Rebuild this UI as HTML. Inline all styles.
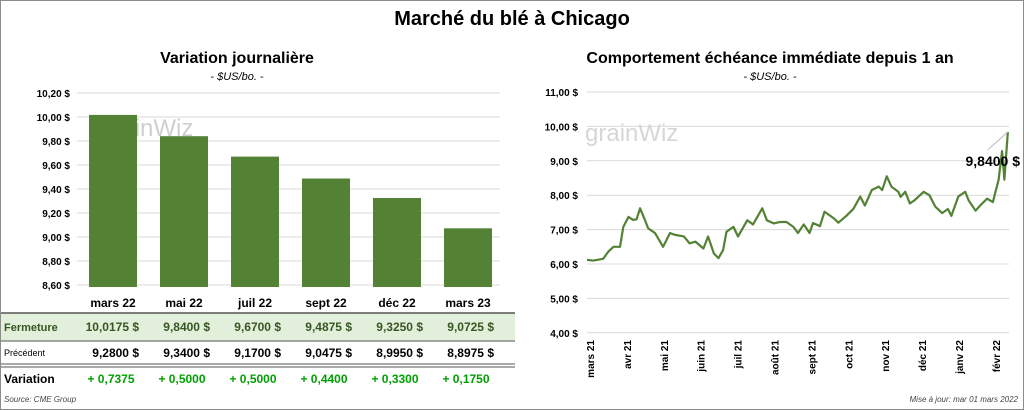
<!DOCTYPE html>
<html><head><meta charset="utf-8"><style>
body{margin:0;width:1024px;height:410px;background:#fff;font-family:"Liberation Sans",sans-serif;overflow:hidden}
#frame{position:absolute;left:0;top:0;width:1022px;height:408px;border:1px solid #8c8c8c}
.t{position:absolute;white-space:nowrap}
</style></head><body>
<div id="frame"></div>
<div class="t" style="left:0;width:1024px;text-align:center;top:8px;font-size:20px;font-weight:bold">Marché du blé à Chicago</div>
<svg id="s" width="1024" height="410" style="position:absolute;left:0;top:0"></svg>
<script>
const barCats=["mars 22","mai 22","juil 22","sept 22","déc 22","mars 23"];
const closeVals=[10.0175,9.84,9.67,9.4875,9.325,9.0725];
const prevVals=[9.28,9.34,9.17,9.0475,8.995,8.8975];
const barTicks=[10.2,10.0,9.8,9.6,9.4,9.2,9.0,8.8,8.6];
const lineDays=[0,5.5,14,18.5,23,28.6,31.5,36,40,43,46,50,53,59,66,72,76,84,89,94,101,105,110,114,118,121,127,131,139,144,152,156,162,167,173,179,183,188,193,196,202,206,214,218,225,231,237,241,247,253,256,260,264,270,272,276,280,284,292,297,302,308,313,316,322,328,331,337,341,347,352,357,360,362,365];
const lineVals=[6.12,6.1,6.15,6.36,6.5,6.5,7.08,7.37,7.28,7.3,7.62,7.3,7.04,6.9,6.5,6.9,6.85,6.8,6.6,6.65,6.45,6.8,6.31,6.17,6.4,6.94,7.08,6.8,7.27,7.15,7.62,7.27,7.18,7.22,7.22,7.08,6.9,7.15,6.9,7.19,7.1,7.52,7.33,7.2,7.4,7.6,7.96,7.7,8.15,8.25,8.15,8.55,8.25,8.1,7.95,8.1,7.76,7.85,8.1,8.0,7.67,7.48,7.6,7.4,7.96,8.1,7.85,7.55,7.7,7.9,7.8,8.45,9.28,8.45,9.84];
const lineTicks=[11,10,9,8,7,6,5,4];
const monthLabels=["mars 21","avr 21","mai 21","juin 21","juil 21","août 21","sept 21","oct 21","nov 21","déc 21","janv 22","févr 22"];
const S=document.getElementById('s');const NS="http://www.w3.org/2000/svg";
function mk(t,a,txt){const e=document.createElementNS(NS,t);for(const k in a)e.setAttribute(k,a[k]);if(txt!==undefined)e.textContent=txt;S.appendChild(e);return e;}
const fmt=(v,d)=>v.toFixed(d).replace('.',',');
// left chart
const by=v=>93+(10.2-v)*120, bx=i=>113+i*71;
mk('text',{x:237,y:63,'font-size':16,'font-weight':'bold','text-anchor':'middle','font-family':'Liberation Sans'},'Variation  journalière');
mk('text',{x:237,y:80,'font-size':11,'font-style':'italic','text-anchor':'middle','font-family':'Liberation Sans'},'- $US/bo. -');
barTicks.forEach(v=>{const l=mk('line',{x1:77,x2:500,y1:by(v),y2:by(v),stroke:'#d9d9d9'});
const t=mk('text',{x:70,y:by(v)+4,'font-size':10,'font-weight':'bold','text-anchor':'end','font-family':'Liberation Sans'},fmt(v,2)+' $');});
mk('text',{x:100,y:136,'font-size':24,fill:'#cfcfcf','font-family':'Liberation Sans'},'grainWiz');
closeVals.forEach((v,i)=>{const r=mk('rect',{x:bx(i)-24,y:by(v),width:48,height:by(8.6)-by(v)+2,fill:'#548235'});
const c=mk('text',{x:bx(i),y:307,'font-size':12,'font-weight':'bold','text-anchor':'middle','font-family':'Liberation Sans'},barCats[i]);});
// table
mk('rect',{x:1,y:313,width:514,height:28,fill:'#e2efda'});
mk('line',{x1:1,x2:515,y1:313,y2:313,stroke:'#555','stroke-width':1.5});
mk('line',{x1:1,x2:515,y1:341,y2:341,stroke:'#555'});
mk('line',{x1:1,x2:515,y1:364,y2:364,stroke:'#555'});
mk('line',{x1:1,x2:515,y1:367,y2:367,stroke:'#555'});
mk('text',{x:4,y:331,'font-size':11,'font-weight':'bold',fill:'#375623','font-family':'Liberation Sans'},'Fermeture');
mk('text',{x:4,y:356,'font-size':9,'font-family':'Liberation Sans'},'Précédent');
mk('text',{x:4,y:383,'font-size':12,'font-weight':'bold','font-family':'Liberation Sans'},'Variation');
mk('text',{x:4,y:402,'font-size':8,'font-style':'italic',fill:'#444','font-family':'Liberation Sans'},'Source: CME Group');
closeVals.forEach((v,i)=>{const x=bx(i)+26;
const a=mk('text',{x:x,y:331,'font-size':12,'font-weight':'bold',fill:'#375623','text-anchor':'end','font-family':'Liberation Sans'},fmt(v,4)+'  $');
const b=mk('text',{x:x,y:357,'font-size':12,'font-weight':'bold','text-anchor':'end','font-family':'Liberation Sans'},fmt(prevVals[i],4)+'  $');
const c=mk('text',{x:bx(i)-2,y:383,'font-size':12,'font-weight':'bold',fill:'#00a000','text-anchor':'middle','font-family':'Liberation Sans'},'+ '+fmt(v-prevVals[i],4));});
// right chart
const ly=v=>92+(11-v)*34.4, lx=d=>587+d*1.153;
mk('text',{x:770,y:63,'font-size':16,'font-weight':'bold','text-anchor':'middle','font-family':'Liberation Sans'},'Comportement  échéance immédiate depuis 1 an');
mk('text',{x:770,y:80,'font-size':11,'font-style':'italic','text-anchor':'middle','font-family':'Liberation Sans'},'- $US/bo. -');
lineTicks.forEach(v=>{const l=mk('line',{x1:587,x2:1009,y1:ly(v),y2:ly(v),stroke:'#d9d9d9'});
const t=mk('text',{x:578,y:ly(v)+4,'font-size':10,'font-weight':'bold','text-anchor':'end','font-family':'Liberation Sans'},fmt(v,2)+' $');});
mk('text',{x:585,y:141,'font-size':24,fill:'#d6d6d6','font-family':'Liberation Sans'},'grainWiz');
monthLabels.forEach((m,i)=>{const x=590+i*36.9;const t=mk('text',{x:0,y:0,'font-size':10,'font-weight':'bold','text-anchor':'end','font-family':'Liberation Sans',transform:`translate(${x+4},340) rotate(-90)`},m);});
const p=mk('polyline',{points:lineDays.map((d,i)=>lx(d)+','+ly(lineVals[i])).join(' '),fill:'none',stroke:'#548235','stroke-width':2.2,'stroke-linejoin':'round'});

const last=lineVals.length-1;
mk('line',{x1:lx(lineDays[last]),y1:ly(lineVals[last]),x2:lx(lineDays[last])-20,y2:ly(lineVals[last])+18,stroke:'#bbb'});
mk('text',{x:1020,y:166,'font-size':14,'font-weight':'bold','text-anchor':'end','font-family':'Liberation Sans'},fmt(lineVals[last],4)+' $');
mk('text',{x:1018,y:402,'font-size':8,'font-style':'italic',fill:'#444','text-anchor':'end','font-family':'Liberation Sans'},'Mise à jour: mar 01 mars 2022');
</script>
</body></html>
